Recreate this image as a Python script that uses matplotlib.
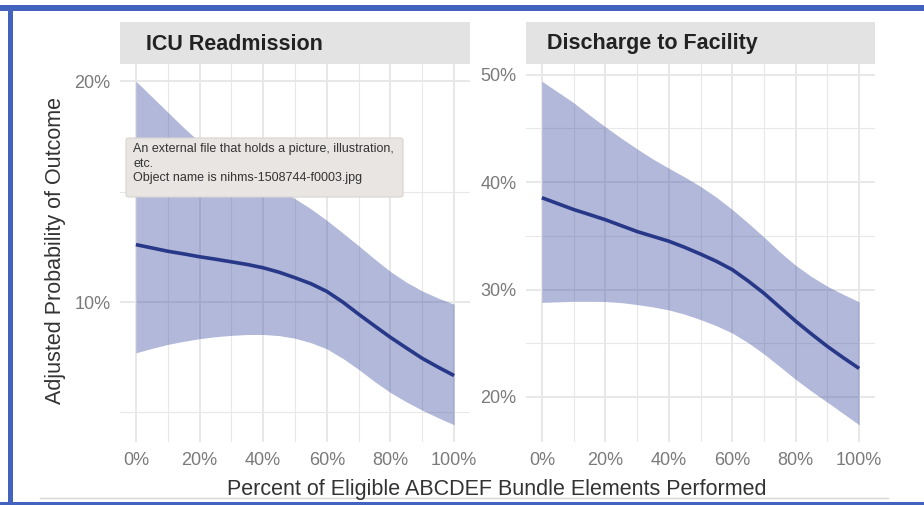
import numpy as np
import matplotlib
matplotlib.use("Agg")
import matplotlib.pyplot as plt
from matplotlib.patches import FancyBboxPatch, Rectangle
from matplotlib.lines import Line2D
from matplotlib.ticker import FuncFormatter

plt.rcParams['font.family'] = ['Liberation Sans', 'DejaVu Sans']

# Percent of eligible bundle elements performed
pct = [0, 5, 10, 15, 20, 25, 30, 35, 40, 45, 50,
       55, 60, 65, 70, 75, 80, 85, 90, 95, 100]

# ICU readmission: adjusted probability (%) with 95% band
icu_fit = [12.6, 12.45, 12.3, 12.18, 12.05, 11.94, 11.82, 11.7, 11.55, 11.35, 11.1,
           10.83, 10.48, 10.0, 9.45, 8.92, 8.4, 7.92, 7.45, 7.05, 6.67]
icu_lo = [7.7, 7.9, 8.08, 8.22, 8.34, 8.43, 8.49, 8.53, 8.53, 8.48, 8.36,
          8.16, 7.88, 7.45, 6.95, 6.4, 5.9, 5.48, 5.1, 4.76, 4.44]
icu_hi = [20.0, 19.3, 18.6, 17.9, 17.25, 16.7, 16.2, 15.83, 15.48, 15.1, 14.68,
          14.22, 13.7, 13.13, 12.55, 11.95, 11.38, 10.9, 10.5, 10.18, 9.9]

# Discharge to facility: adjusted probability (%) with 95% band
dis_fit = [38.55, 38.0, 37.45, 36.98, 36.5, 35.95, 35.4, 34.95, 34.5, 33.93, 33.3,
           32.63, 31.85, 30.8, 29.65, 28.35, 27.05, 25.85, 24.7, 23.65, 22.65]
dis_lo = [28.8, 28.85, 28.9, 28.9, 28.88, 28.78, 28.6, 28.38, 28.1, 27.7, 27.2,
          26.63, 25.95, 25.05, 24.0, 22.82, 21.63, 20.53, 19.5, 18.45, 17.4]
dis_hi = [49.4, 48.4, 47.4, 46.25, 45.15, 44.1, 43.1, 42.15, 41.3, 40.48, 39.6,
          38.6, 37.45, 36.2, 34.88, 33.5, 32.25, 31.2, 30.3, 29.55, 28.85]

panel_titles = ["ICU Readmission", "Discharge to Facility"]
x_major = [0, 20, 40, 60, 80, 100]
x_minor = [10, 30, 50, 70, 90]
icu_major = [10, 20]
icu_minor = [5, 15]
dis_major = [20, 30, 40, 50]
dis_minor = [25, 35, 45]

W, H = 924, 505
fig = plt.figure(figsize=(W / 100, H / 100), dpi=100)
fig.patch.set_facecolor("white")

LINE = "#283888"
FILL = "#3f4fa0"
GRID = "#e8e8e8"
TICK = "#7a7a7a"


def fx(px):
    return px / W


def fy(py):
    return 1 - py / H


def panel(left_px, right_px, title, title_px, fit, lo, hi, ymaj, ymin):
    ax = fig.add_axes([fx(left_px), fy(442), fx(right_px - left_px), (442 - 64) / H])
    ax.set_facecolor("white")
    lo_all, hi_all = min(lo), max(hi)
    pad = 0.05 * (hi_all - lo_all)
    ax.set_xlim(-5, 105)
    ax.set_ylim(lo_all - pad, hi_all + pad)
    for v in x_minor:
        ax.axvline(v, color=GRID, lw=0.8, zorder=0)
    for v in x_major:
        ax.axvline(v, color=GRID, lw=1.4, zorder=0)
    for v in ymin:
        ax.axhline(v, color=GRID, lw=0.8, zorder=0)
    for v in ymaj:
        ax.axhline(v, color=GRID, lw=1.4, zorder=0)
    ax.fill_between(pct, lo, hi, color=FILL, alpha=0.4, lw=0, zorder=1)
    ax.plot(pct, fit, color=LINE, lw=2.6, zorder=2, solid_capstyle="butt")
    ax.set_xticks(x_major)
    ax.set_yticks(ymaj)
    ax.xaxis.set_major_formatter(FuncFormatter(lambda v, p: f"{v:.0f}%"))
    ax.yaxis.set_major_formatter(FuncFormatter(lambda v, p: f"{v:.0f}%"))
    ax.tick_params(length=0, labelsize=13, colors=TICK, pad=7)
    for s in ax.spines.values():
        s.set_visible(False)
    # facet strip
    strip = Rectangle((fx(left_px), fy(64)), fx(right_px - left_px), 42 / H,
                      transform=fig.transFigure, facecolor="#e3e3e3",
                      edgecolor="none", zorder=0)
    fig.patches.append(strip)
    fig.text(fx(title_px), fy(44), title, fontsize=15.5, fontweight="bold",
             color="#222222", va="center", ha="left")
    return ax


ax1 = panel(120, 470, panel_titles[0], 146, icu_fit, icu_lo, icu_hi, icu_major, icu_minor)
ax2 = panel(526, 875, panel_titles[1], 547, dis_fit, dis_lo, dis_hi, dis_major, dis_minor)

fig.text(fx(497), fy(490), "Percent of Eligible ABCDEF Bundle Elements Performed",
         fontsize=15.5, color="#333333", ha="center", va="center")
fig.text(fx(55), fy(250), "Adjusted Probability of Outcome", fontsize=15.5,
         color="#333333", ha="center", va="center", rotation=90)

# hover caption box
box = FancyBboxPatch((fx(126), fy(197)), fx(403 - 126), (197 - 138) / H,
                     boxstyle="round,pad=0,rounding_size=0.004",
                     transform=fig.transFigure, facecolor="#e9e5e3",
                     edgecolor="#d8d4d2", lw=0.8, zorder=5)
fig.patches.append(box)
caption = ["An external file that holds a picture, illustration,",
           "etc.",
           "Object name is nihms-1508744-f0003.jpg"]
for i, line in enumerate(caption):
    fig.text(fx(133), fy(149 + 14.5 * i), line, fontsize=9.0, color="#333333",
             ha="left", va="center", zorder=6)

# page frame
fig.add_artist(Line2D([fx(40), fx(888)], [fy(498), fy(498)], color="#d5d5d5", lw=1,
                      transform=fig.transFigure))
fig.patches.append(Rectangle((0, fy(11)), 1, 6 / H, transform=fig.transFigure,
                             facecolor="#4363bf", edgecolor="none"))
fig.patches.append(Rectangle((0, 0), 1, 3 / H, transform=fig.transFigure,
                             facecolor="#4363bf", edgecolor="none"))
fig.patches.append(Rectangle((fx(8), 0), 5 / W, fy(5), transform=fig.transFigure,
                             facecolor="#4363bf", edgecolor="none"))

fig.savefig("out.png", dpi=100)
